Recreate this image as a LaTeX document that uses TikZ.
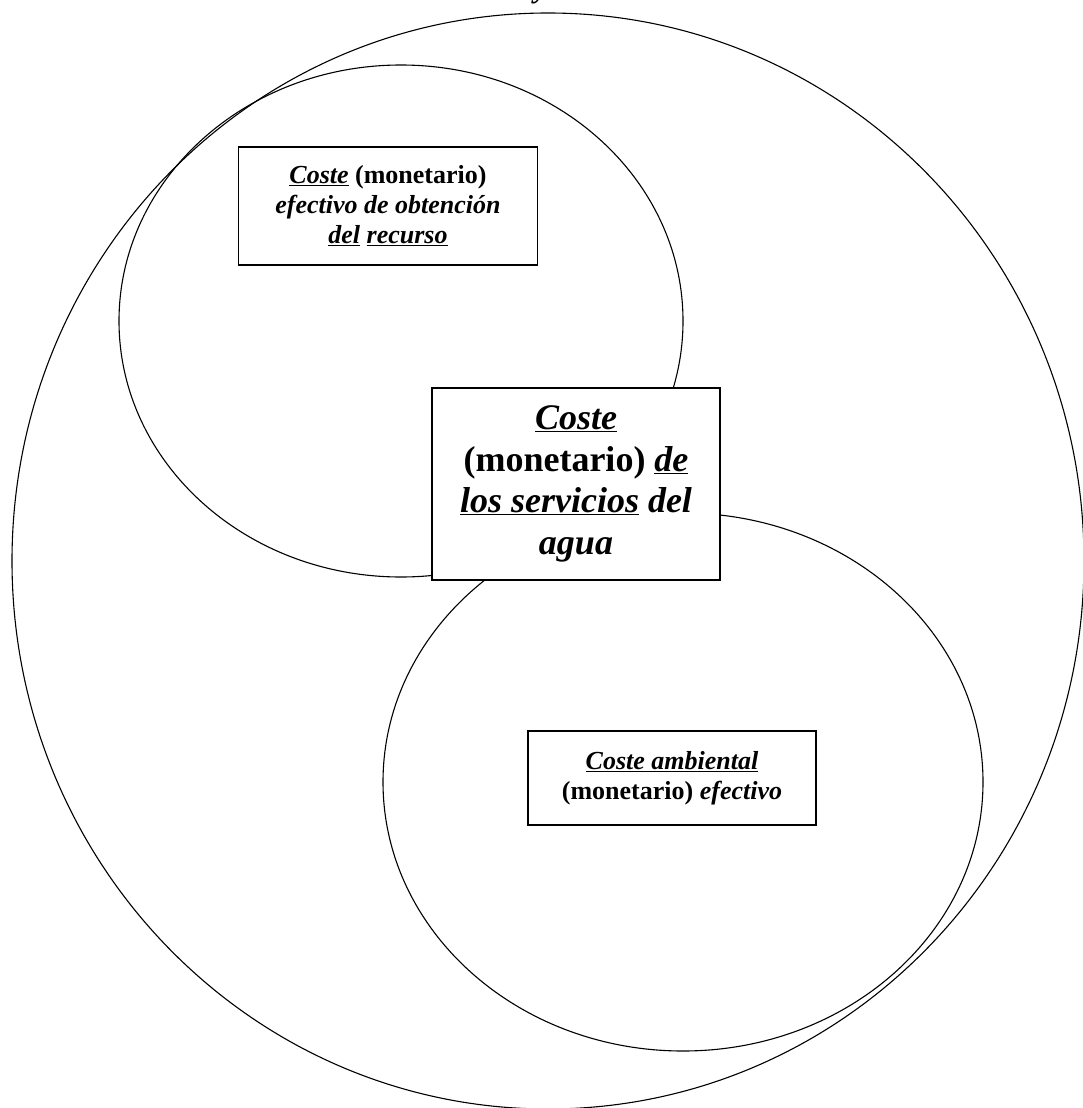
\documentclass[tikz,border=0pt]{standalone}
\usepackage{fontspec}
\setmainfont{Liberation Serif}
\usepackage{tikz}

\begin{document}
\begin{tikzpicture}[x=1pt,y=-1pt,
        costbox/.style={draw,line width=1.6pt,fill=white,align=center,inner sep=0pt,font=\bfseries\fontsize{26}{30}\selectfont}]
    \useasboundingbox (0,0) rectangle (1083,1108);
    \node[anchor=base,font=\bfseries\itshape\fontsize{30}{34}\selectfont] (titulo) at (541,-2) {y};
    \draw[line width=1.1pt] (548,561) ellipse [x radius=536pt, y radius=548pt];
    \draw[line width=1.1pt] (401,321) ellipse [x radius=282pt, y radius=256pt];
    \draw[line width=1.1pt] (683,782) ellipse [x radius=300pt, y radius=269pt];
    \node[costbox,minimum width=299pt,minimum height=118pt] (recurso) at (388,206)
        {\underline{\textit{Coste}} (monetario)\\ \textit{efectivo de obtención}\\ \underline{\textit{del}} \underline{\textit{recurso}}};
    \node[costbox,minimum width=288pt,minimum height=192pt,font=\bfseries\fontsize{36}{41.5}\selectfont] (servicios) at (576,484)
        {\underline{\textit{Coste}}\\ (monetario) \underline{\textit{de}}\\ \underline{\textit{los servicios}} \textit{del}\\ \textit{agua}};
    \node[costbox,minimum width=288pt,minimum height=94pt] (ambiental) at (672,778)
        {\underline{\textit{Coste ambiental}}\\ (monetario) \textit{efectivo}};
\end{tikzpicture}
\end{document}
